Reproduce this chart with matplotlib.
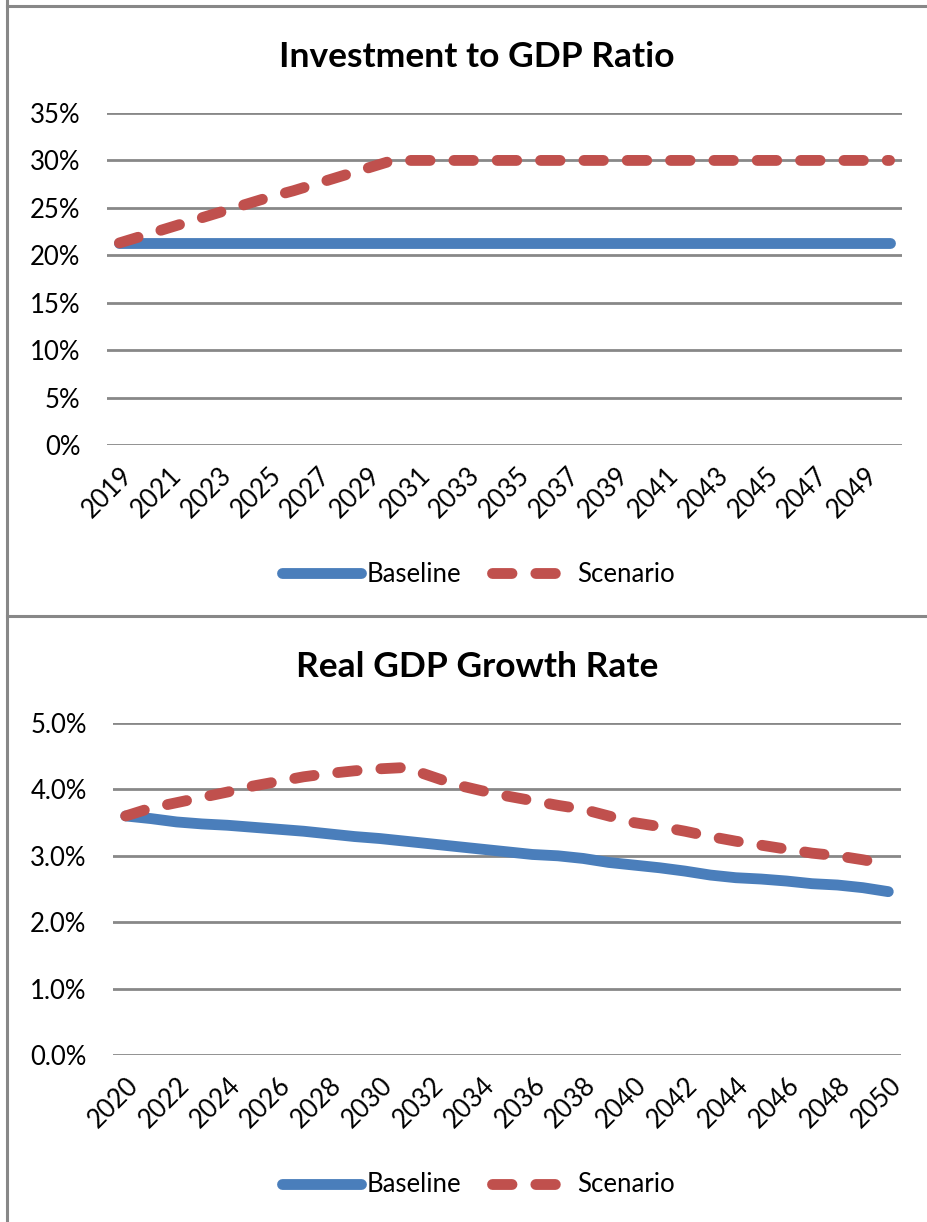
import numpy as np
import matplotlib.pyplot as plt
from matplotlib.lines import Line2D
from matplotlib.ticker import FuncFormatter

plt.rcParams['font.family'] = ['Lato', 'DejaVu Sans']

BLUE = '#4A7EBB'
RED = '#C0504D'
GRID = '#888888'

# investment / GDP, 2019-2050
inv_years = list(range(2019, 2051))
inv_baseline = [21.3] * 32
inv_scenario = [21.3, 22.1, 22.9, 23.7, 24.5, 25.3, 26.1, 26.8, 27.6, 28.4, 29.2, 30.0,
                30.0, 30.0, 30.0, 30.0, 30.0, 30.0, 30.0, 30.0, 30.0, 30.0, 30.0, 30.0,
                30.0, 30.0, 30.0, 30.0, 30.0, 30.0, 30.0, 30.0]

# real GDP growth, 2020-2050
gdp_years = list(range(2020, 2051))
gdp_baseline = [3.60, 3.56, 3.51, 3.48, 3.46, 3.43, 3.40, 3.37, 3.33, 3.29, 3.26,
                3.22, 3.18, 3.14, 3.10, 3.06, 3.02, 3.00, 2.96, 2.90, 2.86, 2.82,
                2.77, 2.71, 2.67, 2.65, 2.62, 2.58, 2.56, 2.52, 2.46]
gdp_scenario = [3.60, 3.72, 3.80, 3.88, 3.96, 4.05, 4.12, 4.19, 4.24, 4.28, 4.31,
                4.33, 4.20, 4.07, 3.98, 3.90, 3.83, 3.76, 3.70, 3.60, 3.50, 3.44,
                3.37, 3.29, 3.22, 3.16, 3.10, 3.04, 3.00, 2.94, 2.87]

W, H = 927, 1222
fig = plt.figure(figsize=(W / 100, H / 100), dpi=100)

# panel frames
for xs, ys in [([7, 7], [0, H]), ([7, W], [6, 6]), ([7, W], [616, 616])]:
    fig.add_artist(Line2D([x / W for x in xs], [1 - y / H for y in ys], color=GRID, lw=2.2,
                          transform=fig.transFigure))

LW = 7.8


def draw(ax, years, base, scen, ymax, step, fmt):
    x = np.arange(len(years))
    ax.plot(x, base, color=BLUE, lw=LW, solid_capstyle='round', label='Baseline', zorder=3)
    ax.plot(x, scen, color=RED, lw=LW, dashes=(1.8, 2.2), dash_capstyle='round',
            label='Scenario', zorder=4)
    ax.set_xlim(-0.5, len(years) - 0.5)
    ax.set_ylim(0, ymax)
    ax.set_yticks(np.arange(0, ymax + step / 2, step))
    ax.yaxis.set_major_formatter(FuncFormatter(fmt))
    ax.set_xticks(x[::2])
    ax.set_xticklabels([str(y) for y in years[::2]], rotation=45, ha='right',
                       rotation_mode='anchor')
    ax.tick_params(axis='both', length=0, labelsize=18.5, colors='black')
    ax.tick_params(axis='y', pad=19)
    ax.tick_params(axis='x', pad=13)
    ax.grid(axis='y', color=GRID, lw=2)
    ax.set_axisbelow(True)
    for s in ax.spines.values():
        s.set_visible(False)


ax1 = fig.add_axes([107 / W, 1 - 445 / H, 795 / W, 332 / H])
draw(ax1, inv_years, inv_baseline, inv_scenario, 35, 5, lambda v, p: f'{v:.0f}%')
ax2 = fig.add_axes([113 / W, 1 - 1055 / H, 788 / W, 332 / H])
draw(ax2, gdp_years, gdp_baseline, gdp_scenario, 5, 1, lambda v, p: f'{v:.1f}%')

fig.text(477 / W, 1 - 67 / H, 'Investment to GDP Ratio', ha='center', va='baseline',
         fontsize=25.5, fontweight='bold')
fig.text(477 / W, 1 - 677 / H, 'Real GDP Growth Rate', ha='center', va='baseline',
         fontsize=25.5, fontweight='bold')

for ax, yc in [(ax1, 574), (ax2, 1185)]:
    ax.legend(loc='center', bbox_to_anchor=(478 / W, 1 - yc / H),
              bbox_transform=fig.transFigure, ncol=2, frameon=False, fontsize=18.5,
              handlelength=3.1, handletextpad=0.2, columnspacing=1.2,
              borderpad=0, borderaxespad=0)

fig.savefig('out.png', dpi=100)
